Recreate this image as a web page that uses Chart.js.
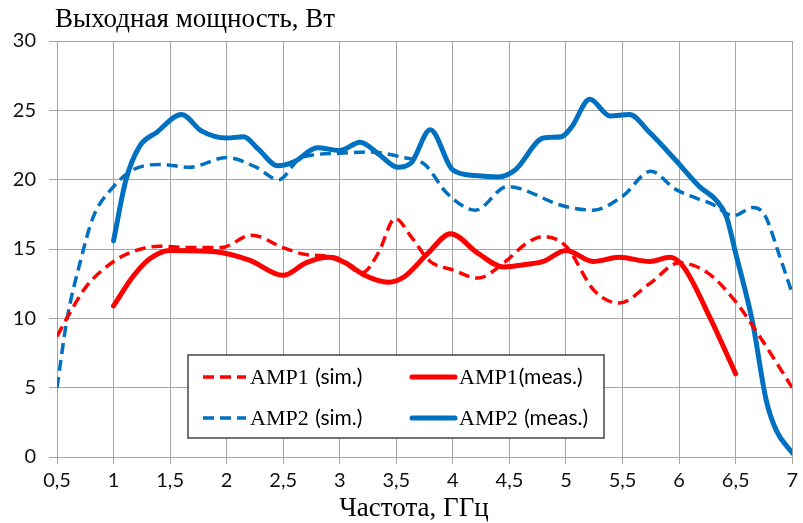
<!DOCTYPE html>
<html>
<head>
<meta charset="utf-8">
<script src="https://cdn.jsdelivr.net/npm/chart.js@4/dist/chart.umd.min.js"></script>
<style>
  html, body { margin: 0; padding: 0; background: #fff; }
  #wrap { width: 803px; height: 523px; }
</style>
</head>
<body>
<div id="wrap"><canvas id="chart" width="803" height="523"></canvas></div>
<script>
// frequency (GHz) / output power (W)
const amp1SimF = [0.5, 0.6, 0.76, 1.0, 1.2, 1.4, 1.7, 1.95, 2.22, 2.5, 2.7, 2.96, 3.2, 3.34, 3.49, 3.63, 3.8, 4.0, 4.22, 4.45, 4.65, 4.8, 5.0, 5.25, 5.47, 5.74, 6.0, 6.25, 6.5, 6.72, 7.0];
const amp1SimP = [8.7, 10.2, 12.3, 14.1, 14.9, 15.2, 15.1, 15.1, 16.0, 15.1, 14.6, 14.4, 13.3, 14.7, 17.2, 15.9, 14.1, 13.5, 12.9, 14.0, 15.4, 15.9, 15.2, 12.0, 11.1, 12.5, 14.0, 13.3, 11.2, 8.6, 5.0];

const amp1MeasF = [1.0, 1.17, 1.32, 1.5, 1.9, 2.2, 2.5, 2.7, 2.9, 3.05, 3.22, 3.43, 3.57, 3.78, 3.98, 4.22, 4.45, 4.66, 4.8, 5.0, 5.24, 5.47, 5.74, 5.92, 6.04, 6.27, 6.5];
const amp1MeasP = [10.9, 13.0, 14.3, 14.9, 14.8, 14.2, 13.1, 14.0, 14.4, 14.0, 13.1, 12.6, 13.0, 14.7, 16.1, 14.7, 13.7, 13.9, 14.1, 14.9, 14.1, 14.4, 14.1, 14.4, 13.7, 10.1, 6.0];

const amp2SimF = [0.5, 0.59, 0.7, 0.82, 1.0, 1.17, 1.41, 1.67, 2.0, 2.26, 2.46, 2.66, 3.0, 3.25, 3.56, 3.75, 3.95, 4.2, 4.48, 4.98, 5.24, 5.5, 5.75, 5.97, 6.3, 6.48, 6.66, 6.76, 6.88, 7.0];
const amp2SimP = [5.0, 10.0, 13.9, 17.3, 19.5, 20.7, 21.1, 20.9, 21.6, 20.9, 20.0, 21.6, 21.9, 22.0, 21.6, 21.1, 19.0, 17.8, 19.5, 18.1, 17.8, 18.8, 20.6, 19.3, 18.2, 17.4, 18.0, 17.4, 14.7, 11.8];

const amp2MeasF = [1.0, 1.11, 1.23, 1.38, 1.6, 1.78, 2.0, 2.15, 2.28, 2.45, 2.6, 2.8, 3.0, 3.18, 3.35, 3.51, 3.63, 3.8, 4.0, 4.2, 4.4, 4.55, 4.8, 4.96, 5.05, 5.21, 5.39, 5.56, 5.74, 5.97, 6.18, 6.33, 6.42, 6.5, 6.65, 6.77, 6.86, 7.0];
const amp2MeasP = [15.6, 20.0, 22.4, 23.4, 24.7, 23.5, 23.0, 23.1, 22.2, 21.0, 21.3, 22.3, 22.1, 22.7, 21.8, 20.9, 21.2, 23.6, 20.7, 20.3, 20.2, 20.7, 23.0, 23.1, 23.8, 25.8, 24.6, 24.7, 23.4, 21.4, 19.5, 18.5, 17.3, 14.7, 9.7, 4.1, 1.9, 0.3];

const seriesLabels = ['AMP1 (sim.)', 'AMP1(meas.)', 'AMP2 (sim.)', 'AMP2 (meas.)'];
const xTickLabels = ['0,5', '1', '1,5', '2', '2,5', '3', '3,5', '4', '4,5', '5', '5,5', '6', '6,5', '7'];
const yTickLabels = ['0', '5', '10', '15', '20', '25', '30'];

const chartTitle = 'Выходная мощность, Вт';
const xTitle = 'Частота, ГГц';

const RED = '#ff0000';
const BLUE = '#0070c0';
const GRID = '#a6a6a6';
const SERIF = '"Liberation Serif", "DejaVu Serif", serif';
const SANS = 'Lato, "Open Sans", sans-serif';

function pts(fs, ps) {
    return fs.map((f, i) => ({ x: f, y: ps[i] }));
}

function lineSet(label, fs, ps, color, dashed) {
    return {
        label: label,
        data: pts(fs, ps),
        borderColor: color,
        backgroundColor: color,
        borderWidth: dashed ? 3.5 : 5,
        borderDash: dashed ? [11, 6] : [],
        borderCapStyle: dashed ? 'butt' : 'round',
        borderJoinStyle: 'round',
        pointRadius: 0,
        fill: false,
        cubicInterpolationMode: 'monotone',
        _dashed: dashed
    };
}

// titles + boxed legend inside the plot
const decor = {
    id: 'decor',
    afterDraw(chart) {
        const ctx = chart.ctx;
        ctx.save();
        ctx.fillStyle = '#000';
        ctx.textBaseline = 'alphabetic';
        ctx.font = '27px ' + SERIF;
        ctx.textAlign = 'left';
        ctx.fillText(chartTitle, 55, 27);
        ctx.textAlign = 'center';
        ctx.fillText(xTitle, 414, 516);

        // legend box
        const bx = 188, by = 355, bw = 416, bh = 83;
        ctx.fillStyle = '#fff';
        ctx.fillRect(bx, by, bw, bh);
        ctx.strokeStyle = '#444';
        ctx.lineWidth = 1.5;
        ctx.strokeRect(bx, by, bw, bh);

        const cols = [203, 412];
        const rows = [377, 418];
        chart.data.datasets.forEach((ds, i) => {
            const cx = cols[i % 2];
            const cy = rows[Math.floor(i / 2)];
            ctx.beginPath();
            ctx.strokeStyle = ds.borderColor;
            ctx.lineWidth = ds.borderWidth;
            ctx.setLineDash(ds.borderDash);
            ctx.lineCap = ds._dashed ? 'butt' : 'round';
            ctx.moveTo(cx, cy);
            ctx.lineTo(cx + 43, cy);
            ctx.stroke();
            ctx.setLineDash([]);

            const k = ds.label.indexOf('(');
            const head = ds.label.slice(0, k);
            const tail = ds.label.slice(k);
            ctx.fillStyle = '#000';
            ctx.textAlign = 'left';
            ctx.textBaseline = 'middle';
            ctx.font = '22px ' + SERIF;
            let tx = cx + 47;
            ctx.fillText(head, tx, cy + 1);
            tx += ctx.measureText(head).width + 1;
            ctx.font = '21px ' + SANS;
            ctx.fillText(tail, tx, cy);
        });
        ctx.restore();
    }
};

new Chart(document.getElementById('chart'), {
    type: 'line',
    data: {
        datasets: [
            lineSet(seriesLabels[0], amp1SimF, amp1SimP, RED, true),
            lineSet(seriesLabels[1], amp1MeasF, amp1MeasP, RED, false),
            lineSet(seriesLabels[2], amp2SimF, amp2SimP, BLUE, true),
            lineSet(seriesLabels[3], amp2MeasF, amp2MeasP, BLUE, false)
        ]
    },
    options: {
        responsive: false,
        animation: false,
        devicePixelRatio: 1,
        layout: { padding: { left: 0, top: 41, right: 8, bottom: 0 } },
        plugins: {
            legend: { display: false },
            tooltip: { enabled: false },
            title: { display: false }
        },
        scales: {
            x: {
                type: 'linear',
                min: 0.5,
                max: 7,
                ticks: {
                    stepSize: 0.5,
                    padding: 5,
                    color: '#111',
                    font: { family: SANS, size: 20 },
                    maxRotation: 0,
                    callback: (v, i) => xTickLabels[i]
                },
                grid: { color: GRID, lineWidth: 1, tickLength: 7 },
                border: { color: GRID, width: 1 },
                afterFit: s => { s.height = 66; }
            },
            y: {
                min: 0,
                max: 30,
                ticks: {
                    stepSize: 5,
                    padding: 13,
                    color: '#111',
                    font: { family: SANS, size: 20 },
                    callback: (v, i) => yTickLabels[i]
                },
                grid: { color: GRID, lineWidth: 1, tickLength: 8 },
                border: { color: GRID, width: 1 },
                afterFit: s => { s.width = 57; }
            }
        }
    },
    plugins: [decor]
});
</script>
</body>
</html>
